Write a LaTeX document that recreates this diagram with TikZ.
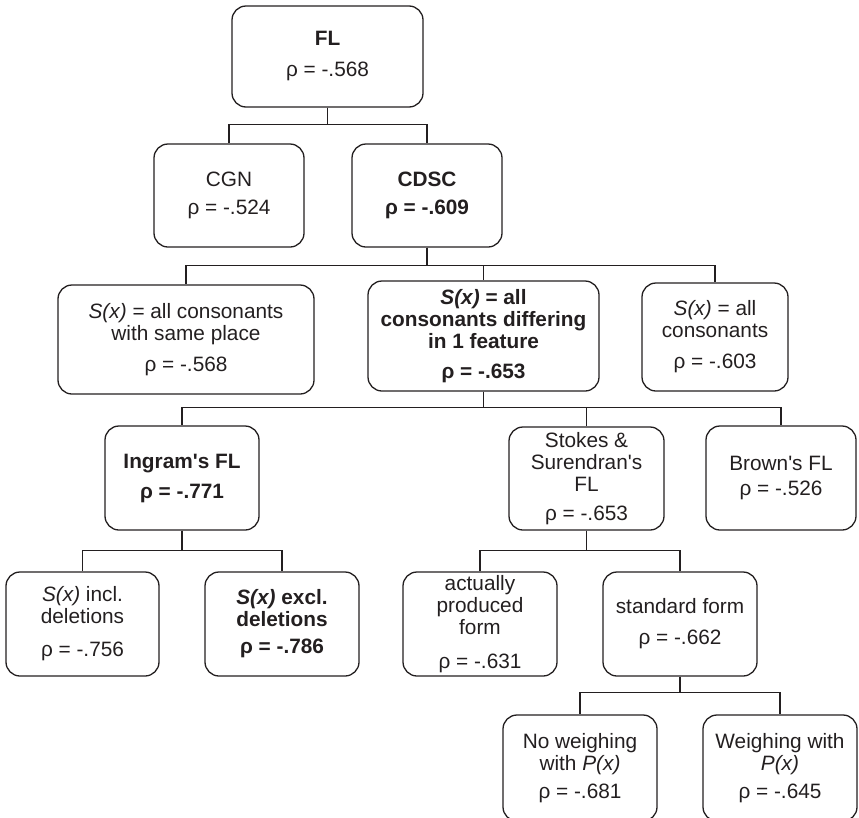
\documentclass[tikz,border=0pt]{standalone}
\usepackage{fontspec}
\setmainfont{Liberation Sans}
\usepackage{tikz}
\definecolor{inkColor}{RGB}{35, 31, 32}
\newcommand{\Sx}{\textit{S(x)}}
\newcommand{\apos}{\textquotesingle}

\begin{document}
\begin{tikzpicture}[
  x=1pt, y=-1pt,
  every node/.style={font=\fontsize{20.8}{22}\selectfont, text=inkColor},
  box/.style={draw=inkColor, line width=1.3pt, rounded corners=14pt, align=center, inner sep=0pt},
  strong/.style={box, font=\fontsize{20.8}{22}\selectfont\bfseries},
  link/.style={draw=inkColor, line width=1.6pt}
]
\useasboundingbox (0,0) rectangle (859,817);

\node[strong, minimum width=191pt, minimum height=101pt] (fl) at (327.5,56.5) {FL\\[9pt]\mdseries ρ = -.568};
\node[box, minimum width=150pt, minimum height=103pt] (cgn) at (229,195.5) {CGN\\[6pt]ρ = -.524};
\node[strong, minimum width=150pt, minimum height=103pt] (cdsc) at (427,195.5) {CDSC\\[6pt]ρ = -.609};

\node[box, minimum width=256pt, minimum height=109pt] (place) at (186,339.5) {\Sx{} = all consonants\\with same place\\[9pt]ρ = -.568};
\node[strong, minimum width=231pt, minimum height=110pt] (feat) at (483.5,336) {\Sx{} = all\\consonants differing\\in 1 feature\\[8pt]ρ = -.653};
\node[box, minimum width=146pt, minimum height=108pt] (allc) at (715,337) {\Sx{} = all\\consonants\\[9pt]ρ = -.603};

\node[strong, minimum width=154pt, minimum height=104pt] (ingram) at (182,478) {Ingram\apos s FL\\[8pt]ρ = -.771};
\node[box, minimum width=155pt, minimum height=103pt] (stokes) at (586.5,478.5) {Stokes \&\\Surendran\apos s\\FL\\[7pt]ρ = -.653};
\node[box, minimum width=150pt, minimum height=104pt] (brown) at (781,478) {Brown\apos s FL\\[3pt]ρ = -.526};

\node[box, minimum width=153pt, minimum height=104pt] (incl) at (82.5,624) {\Sx{} incl.\\deletions\\[11pt]ρ = -.756};
\node[strong, minimum width=154pt, minimum height=104pt] (excl) at (282,624) {\Sx{} excl.\\deletions\\[5pt]ρ = -.786};
\node[box, minimum width=154pt, minimum height=104pt] (prod) at (480,624) {actually\\produced\\form\\[12pt]ρ = -.631};
\node[box, minimum width=154pt, minimum height=104pt] (std) at (680,624) {standard form\\[9pt]ρ = -.662};

\node[box, minimum width=154pt, minimum height=106pt] (noweigh) at (580,768) {No weighing\\with \textit{P(x)}\\[6pt]ρ = -.681};
\node[box, minimum width=154pt, minimum height=106pt] (weigh) at (780,768) {Weighing with\\\textit{P(x)}\\[6pt]ρ = -.645};

\draw[link] (fl.south) -- ++(0,17) -| (cgn.north);
\draw[link] (fl.south) -- ++(0,17) -| (cdsc.north);
\draw[link] (cdsc.south) -- ++(0,18) -| (place.north);
\draw[link] (cdsc.south) -- ++(0,18) -| (feat.north);
\draw[link] (cdsc.south) -- ++(0,18) -| (allc.north);
\draw[link] (feat.south) -- ++(0,16) -| (ingram.north);
\draw[link] (feat.south) -- ++(0,16) -| (stokes.north);
\draw[link] (feat.south) -- ++(0,16) -| (brown.north);
\draw[link] (ingram.south) -- ++(0,20) -| (incl.north);
\draw[link] (ingram.south) -- ++(0,20) -| (excl.north);
\draw[link] (stokes.south) -- ++(0,20) -| (prod.north);
\draw[link] (stokes.south) -- ++(0,20) -| (std.north);
\draw[link] (std.south) -- ++(0,16) -| (noweigh.north);
\draw[link] (std.south) -- ++(0,16) -| (weigh.north);
\end{tikzpicture}
\end{document}
